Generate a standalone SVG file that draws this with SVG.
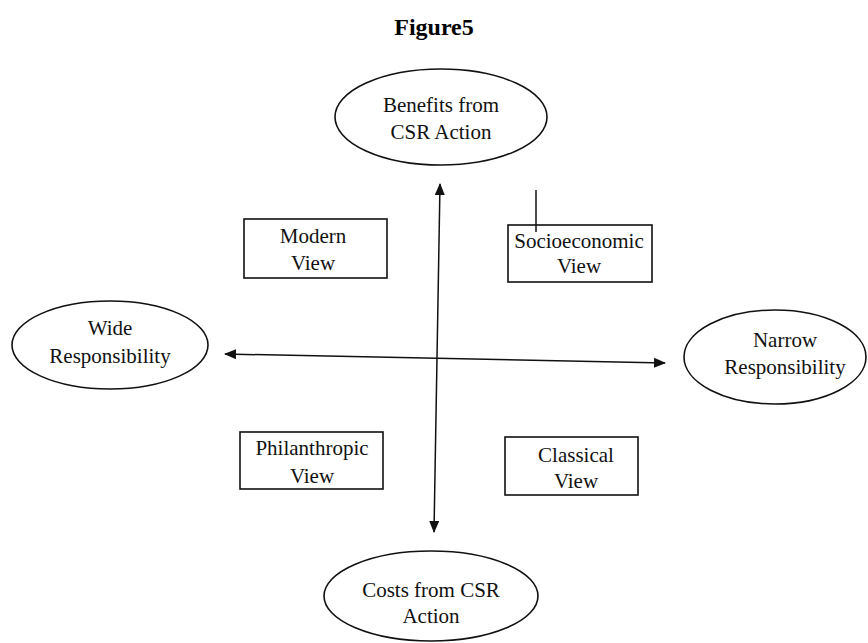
<svg xmlns="http://www.w3.org/2000/svg" width="868" height="643" viewBox="0 0 868 643">
<defs>
<style>
.t{font-family:"Liberation Serif","Times New Roman",serif;font-size:21px;fill:#111;text-anchor:middle}
.title{font-family:"Liberation Serif","Times New Roman",serif;font-size:24px;font-weight:bold;fill:#000;text-anchor:middle}
.shape{fill:none;stroke:#111;stroke-width:1.6}
.conn{fill:none;stroke:#111;stroke-width:1.5}
</style>
<marker id="ah" viewBox="0 0 12 10" refX="11" refY="5" markerWidth="12" markerHeight="10" markerUnits="userSpaceOnUse" orient="auto-start-reverse">
<path d="M0,0 L12,5 L0,10 Z" fill="#111"/>
</marker>
</defs>
<rect width="868" height="643" fill="#fff"/>
<text class="title" x="434" y="35">Figure5</text>

<g id="connectors">
<line class="conn" x1="440" y1="184" x2="434" y2="532" marker-start="url(#ah)" marker-end="url(#ah)"/>
<line class="conn" x1="225" y1="354" x2="665" y2="363" marker-start="url(#ah)" marker-end="url(#ah)"/>
<line class="conn" x1="536" y1="190" x2="536" y2="232"/>
</g>

<g id="benefits">
<ellipse class="shape" cx="441" cy="117" rx="106" ry="48"/>
<text class="t" x="441" y="112">Benefits from</text>
<text class="t" x="441" y="139">CSR Action</text>
</g>
<g id="costs">
<ellipse class="shape" cx="431" cy="596" rx="107" ry="45"/>
<text class="t" x="431" y="597">Costs from CSR</text>
<text class="t" x="431" y="623">Action</text>
</g>
<g id="wide">
<ellipse class="shape" cx="110" cy="345" rx="98" ry="44"/>
<text class="t" x="110" y="335">Wide</text>
<text class="t" x="110" y="363">Responsibility</text>
</g>
<g id="narrow">
<ellipse class="shape" cx="775" cy="357" rx="91" ry="47"/>
<text class="t" x="785" y="347">Narrow</text>
<text class="t" x="785" y="374">Responsibility</text>
</g>
<g id="modern">
<rect class="shape" x="244" y="219" width="143" height="59"/>
<text class="t" x="313" y="243">Modern</text>
<text class="t" x="313" y="270">View</text>
</g>
<g id="socioeconomic">
<rect class="shape" x="508" y="225" width="144" height="57"/>
<text class="t" x="579" y="248">Socioeconomic</text>
<text class="t" x="579" y="273">View</text>
</g>
<g id="philanthropic">
<rect class="shape" x="240" y="432" width="143" height="57"/>
<text class="t" x="312" y="455">Philanthropic</text>
<text class="t" x="312" y="483">View</text>
</g>
<g id="classical">
<rect class="shape" x="505" y="437" width="133" height="58"/>
<text class="t" x="576" y="462">Classical</text>
<text class="t" x="576" y="488">View</text>
</g>
</svg>
